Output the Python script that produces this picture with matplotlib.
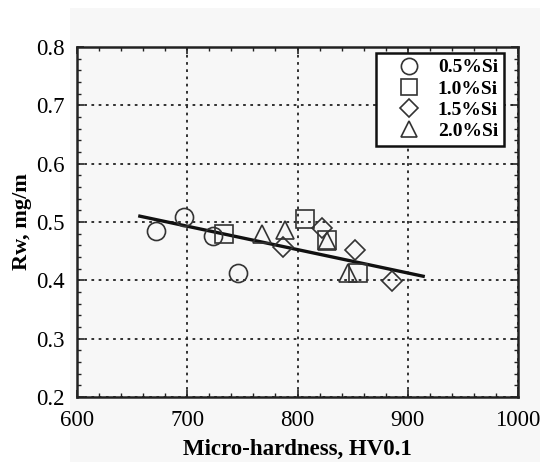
import matplotlib
matplotlib.use("Agg")
import matplotlib.pyplot as plt
from matplotlib.ticker import MultipleLocator
from matplotlib.patches import Rectangle

plt.rcParams['font.family'] = ['Liberation Serif', 'DejaVu Serif']

# wear rate vs micro-hardness for each Si content
hv_05 = [672, 697, 723, 746]
rw_05 = [0.485, 0.509, 0.476, 0.412]

hv_10 = [733, 807, 827, 855]
rw_10 = [0.480, 0.506, 0.470, 0.413]

hv_15 = [787, 822, 852, 886]
rw_15 = [0.458, 0.489, 0.452, 0.399]

hv_20 = [768, 789, 827, 846]
rw_20 = [0.480, 0.486, 0.467, 0.412]

# fitted trend line end points
fit_hv = [657, 914]
fit_rw = [0.510, 0.407]

series = [
    (hv_05, rw_05, 'o', 13, '0.5%Si'),
    (hv_10, rw_10, 's', 13.5, '1.0%Si'),
    (hv_15, rw_15, 'D', 10, '1.5%Si'),
    (hv_20, rw_20, '^', 13, '2.0%Si'),
]

fig = plt.figure(figsize=(5.4, 4.62), dpi=100)
fig.patches.append(Rectangle((70 / 540, 0), 1, 1 - 8 / 462, transform=fig.transFigure,
                             facecolor='#f7f7f7', edgecolor='none', zorder=-10))
ax = fig.add_axes([77 / 540, 65 / 462, 441 / 540, 350 / 462])
ax.set_facecolor('#f7f7f7')

for hv, rw, m, ms, lab in series:
    ax.plot(hv, rw, linestyle='none', marker=m, markersize=ms, markerfacecolor='none',
            markeredgecolor='#333333', markeredgewidth=1.2, label=lab, zorder=3)

ax.plot(fit_hv, fit_rw, color='#111111', linewidth=2.4, zorder=2)

ax.set_xlim(600, 1000)
ax.set_ylim(0.2, 0.8)
ax.xaxis.set_major_locator(MultipleLocator(100))
ax.xaxis.set_minor_locator(MultipleLocator(20))
ax.yaxis.set_major_locator(MultipleLocator(0.1))
ax.yaxis.set_minor_locator(MultipleLocator(0.02))
ax.yaxis.set_major_formatter(lambda v, pos: f'{v:.1f}')

ax.grid(True, which='major', color='#222222', linestyle=(0, (1.5, 2.5)), linewidth=1.3)
ax.tick_params(which='both', direction='in', top=True, right=True, labelsize=16.5, color='#222222')
ax.tick_params(which='major', length=5, width=1.2)
ax.tick_params(which='minor', length=3, width=1.0)
ax.tick_params(axis='x', pad=9)
ax.tick_params(axis='y', pad=9)
for sp in ax.spines.values():
    sp.set_linewidth(1.8)
    sp.set_color('#222222')

ax.set_xlabel('Micro-hardness, HV0.1', fontsize=16.5, fontweight='bold', labelpad=6)
ax.set_ylabel('Rw, mg/m', fontsize=16, fontweight='bold', labelpad=3)

leg = ax.legend(loc='upper right', bbox_to_anchor=(0.968, 0.983), frameon=True, fancybox=False,
                prop={'weight': 'bold', 'size': 14}, handletextpad=0.1, labelspacing=0.18,
                borderpad=0.3, handlelength=2.8, borderaxespad=0, markerscale=0.9)
leg.get_frame().set_edgecolor('#111111')
leg.get_frame().set_linewidth(1.8)
leg.get_frame().set_facecolor('white')
leg.get_frame().set_alpha(1)

fig.savefig('out.png', dpi=100, facecolor='white')
